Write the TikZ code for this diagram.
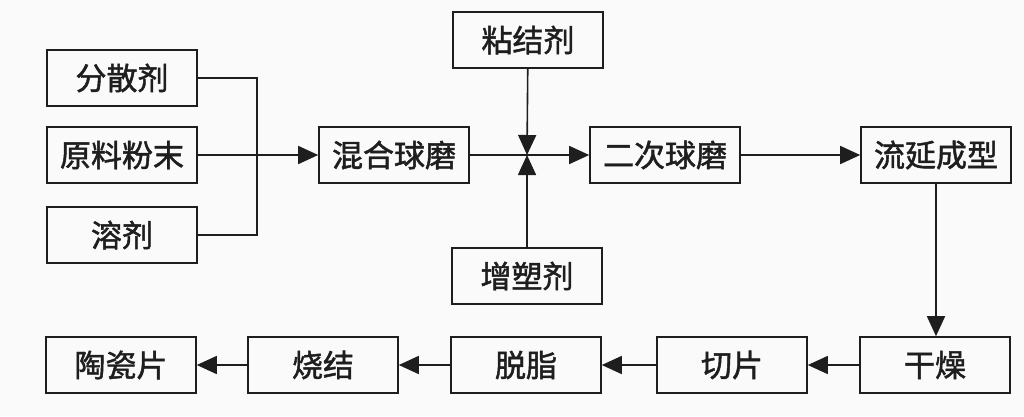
\documentclass[tikz,border=0pt]{standalone}
\usepackage{fontspec}
\newfontfamily\cjk[FakeBold=1.5]{Noto Sans CJK SC}
\usetikzlibrary{arrows.meta}
\definecolor{ink}{HTML}{1E1E1E}
\definecolor{paper}{HTML}{FAFAFA}
\tikzset{
  % Procestrin: en kasse med tekst i midten
  blk/.style={
    draw=ink, line width=1.6pt, fill=paper,
    minimum width=150pt, minimum height=56pt, inner sep=0pt,
    font=\cjk\fontsize{31}{33}\selectfont, text=ink,
  },
  flow/.style={draw=ink, line width=1.6pt},
  arr/.style={flow, -{Triangle[length=20pt,width=18pt]}},
}
\newcommand{\blk}[3]{%
  \node[blk] (#1) at (#2) {#3};}

\begin{document}
\begin{tikzpicture}[x=1pt,y=-1pt]
\fill[paper] (0,0) rectangle (1024,416);
\useasboundingbox (0,0) rectangle (1024,416);

% ----- raavarer (venstre kolonne) -----
\blk{fensan}{122,78}{分散剂}
\blk{yuanliao}{122,155}{原料粉末}
\blk{rongji}{122,235}{溶剂}

% ----- raekke 1 -----
\blk{hunhe}{394,155}{混合球磨}
\blk{nianjie}{528,40}{粘结剂}
\blk{zengsu}{527,276}{增塑剂}
\blk{erci}{665,155}{二次球磨}
\blk{liuyan}{936,155}{流延成型}

% ----- raekke 2 -----
\blk{ganzao}{935,365}{干燥}
\blk{qiepian}{732,365}{切片}
\blk{tuozhi}{526,365}{脱脂}
\blk{shaojie}{323,365}{烧结}
\blk{taoci}{121,365}{陶瓷片}

% samlepunkter
\coordinate (merge) at (257,155);
\coordinate (junc) at (527,155);

% ----- forbindelser -----
\draw[flow] (fensan.east) -| (merge) |- (rongji.east);
\draw[arr] (yuanliao) -- (hunhe);
\draw[arr] (hunhe) -- (erci);
\draw[arr] (nianjie) -- (junc);
\draw[arr] (zengsu) -- (junc);
\draw[arr] (erci) -- (liuyan);
\draw[arr] (liuyan) -- (liuyan |- ganzao.north);

% nederste raekke loeber mod venstre
\draw[arr] (ganzao) -- (qiepian);
\draw[arr] (qiepian) -- (tuozhi);
\draw[arr] (tuozhi) -- (shaojie);
\draw[arr] (shaojie) -- (taoci);

\end{tikzpicture}
\end{document}
